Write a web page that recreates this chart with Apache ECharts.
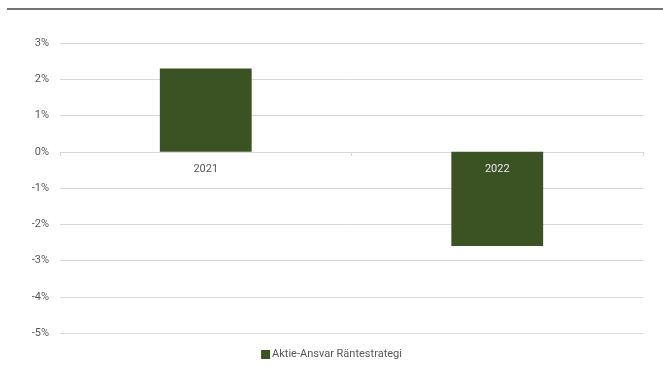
<!DOCTYPE html>
<html>
<head>
<meta charset="utf-8">
<script src="https://cdn.jsdelivr.net/npm/echarts@6/dist/echarts.min.js"></script>
<style>
  html, body { margin: 0; padding: 0; background: #fff; }
  #main { width: 663px; height: 385px; }
</style>
</head>
<body>
<div id="main"></div>
<script>
var years = ['2021', '2022'];
var values = [2.3, -2.6];
var seriesName = 'Aktie-Ansvar Räntestrategi';

var myChart = echarts.init(document.getElementById('main'));

// the category axis sits on the 0% line: 181px up from the bottom of the grid
var zeroOffset = -181;

var option = {
    animation: false,
    textStyle: { fontFamily: 'Roboto' },
    graphic: [{
        type: 'line',
        shape: { x1: 7, y1: 9, x2: 663, y2: 9 },
        style: { stroke: '#3f4a3f', lineWidth: 1.5 }
    }],
    grid: { left: 60, right: 20, top: 43, bottom: 52 },
    legend: {
        bottom: 20,
        left: 'center',
        icon: 'rect',
        itemWidth: 9,
        itemHeight: 9,
        itemGap: 5,
        textStyle: { color: '#595959', fontSize: 11, padding: [0, 0, 0, -3] },
        data: [seriesName]
    },
    xAxis: [{
        type: 'category',
        data: years,
        offset: zeroOffset,
        axisLine: { onZero: false, lineStyle: { color: '#d9d9d9' } },
        axisTick: { show: true, length: 4, lineStyle: { color: '#d9d9d9' } },
        axisLabel: { show: false }
    }, {
        type: 'category',
        data: years,
        position: 'bottom',
        offset: zeroOffset,
        z: 10,
        axisLine: { show: false, onZero: false },
        axisTick: { show: false },
        axisLabel: {
            margin: 12,
            fontSize: 11,
            color: function (value, index) {
                return values[index] < 0 ? '#e8e8e8' : '#595959';
            }
        }
    }],
    yAxis: {
        type: 'value',
        min: -5,
        max: 3,
        interval: 1,
        axisLine: { show: false },
        axisTick: { show: false },
        axisLabel: {
            margin: 11,
            fontSize: 11,
            color: '#595959',
            formatter: '{value}%'
        },
        splitLine: { lineStyle: { color: '#d9d9d9' } }
    },
    series: [{
        name: seriesName,
        type: 'bar',
        data: values,
        barWidth: '31.5%',
        itemStyle: { color: '#3b5323' }
    }]
};

myChart.setOption(option);
</script>
</body>
</html>
